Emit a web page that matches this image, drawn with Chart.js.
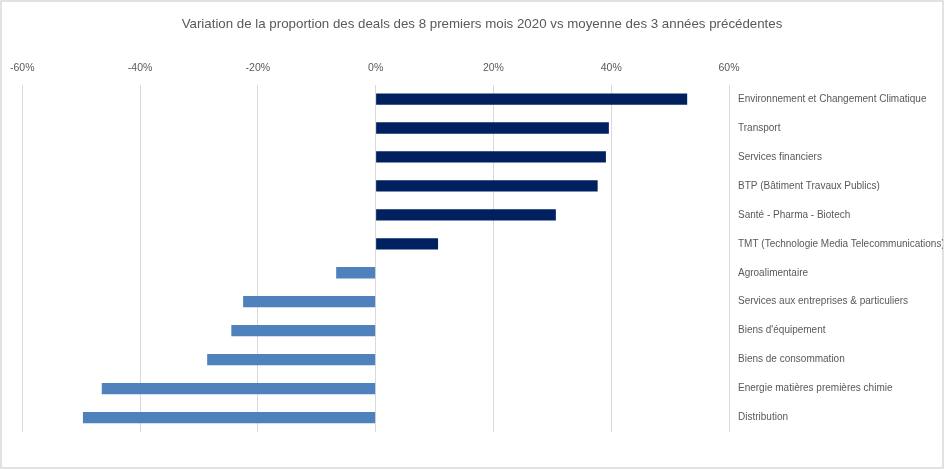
<!DOCTYPE html>
<html>
<head>
<meta charset="utf-8">
<script src="https://cdn.jsdelivr.net/npm/chart.js@4"></script>
<style>
  html, body { margin: 0; padding: 0; background: #fff; }
  #wrap { width: 945px; height: 470px; }
</style>
</head>
<body>
<div id="wrap"><canvas id="dealsChart"></canvas></div>
<script>
// Sectors, top to bottom
const sectors = [
    'Environnement et Changement Climatique',
    'Transport',
    'Services financiers',
    'BTP (Bâtiment Travaux Publics)',
    'Santé - Pharma - Biotech',
    'TMT (Technologie Media Telecommunications)',
    'Agroalimentaire',
    'Services aux entreprises & particuliers',
    "Biens d'équipement",
    'Biens de consommation',
    'Energie matières premières chimie',
    'Distribution'
];

// Variation in percent
const variation = [52.9, 39.6, 39.1, 37.7, 30.6, 10.6, -6.7, -22.5, -24.5, -28.6, -46.5, -49.7];

// Axis ticks
const xTicks = [-60, -40, -20, 0, 20, 40, 60];

const textColor = '#595959';
const fontFamily = '"Liberation Sans", Arial, sans-serif';

// Dark navy for gains, lighter blue for losses
const barColors = variation.map(v => v >= 0 ? '#002060' : '#4F81BD');

// Light grey frame around the whole chart
const framePlugin = {
    id: 'frame',
    beforeDraw(chart) {
        const c = chart.ctx;
        c.save();
        c.fillStyle = '#ffffff';
        c.fillRect(0, 0, chart.width, chart.height);
        c.strokeStyle = '#d9d9d9';
        c.lineWidth = 1.5;
        c.strokeRect(1, 1, chart.width - 3, chart.height - 3);
        c.restore();
    }
};

const ctx = document.getElementById('dealsChart').getContext('2d');

new Chart(ctx, {
    type: 'bar',
    data: {
        labels: sectors,
        datasets: [{
            data: variation,
            backgroundColor: barColors,
            borderWidth: 0,
            barPercentage: 0.39,
            categoryPercentage: 1
        }]
    },
    options: {
        indexAxis: 'y',
        responsive: true,
        maintainAspectRatio: false,
        animation: false,
        layout: {
            padding: { left: 21, right: 2, top: 0, bottom: 38 }
        },
        plugins: {
            legend: { display: false },
            tooltip: { enabled: false },
            title: {
                display: true,
                text: 'Variation de la proportion des deals des 8 premiers mois 2020 vs moyenne des 3 années précédentes',
                color: textColor,
                font: { family: fontFamily, size: 13.3, weight: 'normal' },
                padding: { top: 16, bottom: 20 }
            }
        },
        scales: {
            x: {
                position: 'top',
                min: -60,
                max: 60,
                afterBuildTicks(axis) {
                    axis.ticks = xTicks.map(v => ({ value: v }));
                },
                ticks: {
                    color: textColor,
                    font: { family: fontFamily, size: 10.5 },
                    padding: 10,
                    maxRotation: 0,
                    callback: v => v + '%'
                },
                grid: { color: '#d9d9d9', drawTicks: false },
                border: { display: false }
            },
            y: {
                position: 'right',
                afterFit(axis) {
                    axis.width = 214;
                },
                ticks: {
                    color: textColor,
                    font: { family: fontFamily, size: 10 },
                    padding: 9,
                    autoSkip: false
                },
                grid: { display: false, drawTicks: false },
                border: { display: false }
            }
        }
    },
    plugins: [framePlugin]
});
</script>
</body>
</html>
